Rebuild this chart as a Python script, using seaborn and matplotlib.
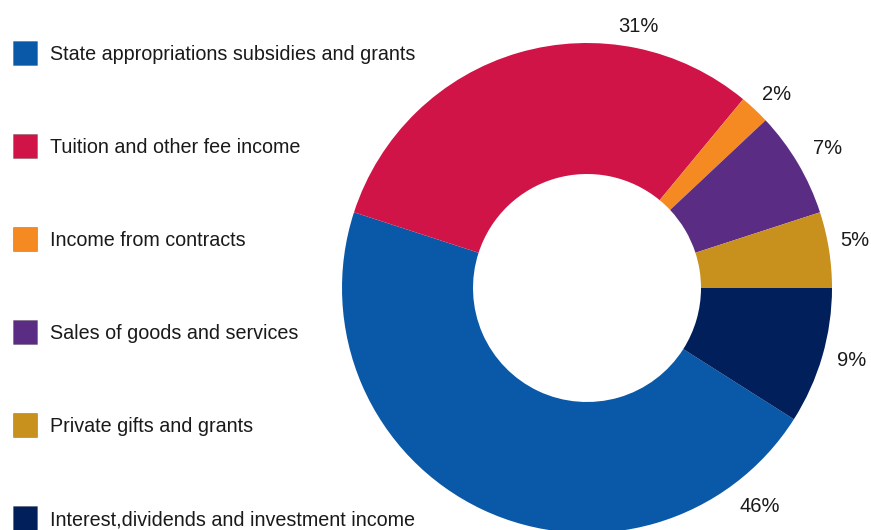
import matplotlib
matplotlib.use("Agg")
import matplotlib.pyplot as plt
from matplotlib.patches import Rectangle
import seaborn as sns

# Revenue sources and their shares (percent)
categories = [
    "State appropriations subsidies and grants",
    "Tuition and other fee income",
    "Income from contracts",
    "Sales of goods and services",
    "Private gifts and grants",
    "Interest,dividends and investment income",
]
shares = [46, 31, 2, 7, 5, 9]
colors = ["#0A58A8", "#D01447", "#F58A22", "#5B2C83", "#C8901C", "#011F5B"]

# Where each percentage label sits, in pixels of the 871x530 canvas
label_px = [(760, 507), (638, 27), (777, 95), (828, 149), (855, 241), (852, 360)]

sns.set_theme(style="white")
plt.rcParams["font.family"] = ["Liberation Sans", "DejaVu Sans"]

W, H = 871, 530
fig = plt.figure(figsize=(W / 100, H / 100), dpi=100)

# Donut geometry in pixels
cx, cy, r = 587, 288, 245
ax = fig.add_axes([(cx - r) / W, (H - cy - r) / H, 2 * r / W, 2 * r / H])

wedges, _ = ax.pie(
    shares,
    colors=colors,
    startangle=-32.4,
    counterclock=False,
    radius=1.0,
    wedgeprops=dict(width=1 - 114 / r, linewidth=0),
)
ax.set_xlim(-1, 1)
ax.set_ylim(-1, 1)
ax.set_aspect("equal")
ax.axis("off")

for v, (px, py) in zip(shares, label_px):
    ax.text((px - cx) / r, (cy - py) / r, f"{v}%", ha="center", va="center",
            fontsize=14.5, color="#1a1a1a", clip_on=False)

# Legend: colour swatches with labels, one row every 93 px
row0, step, sw = 52.5, 93, 24
for i, (name, col) in enumerate(zip(categories, colors)):
    yc = row0 + i * step
    fig.add_artist(Rectangle((13 / W, (H - yc - sw / 2) / H), sw / W, sw / H,
                             transform=fig.transFigure, facecolor=col,
                             edgecolor="#33333355", linewidth=0.6))
    fig.text(50 / W, (H - yc) / H, name, ha="left", va="center_baseline",
             fontsize=14.2, color="#1a1a1a")

fig.savefig("out.png", dpi=100)
